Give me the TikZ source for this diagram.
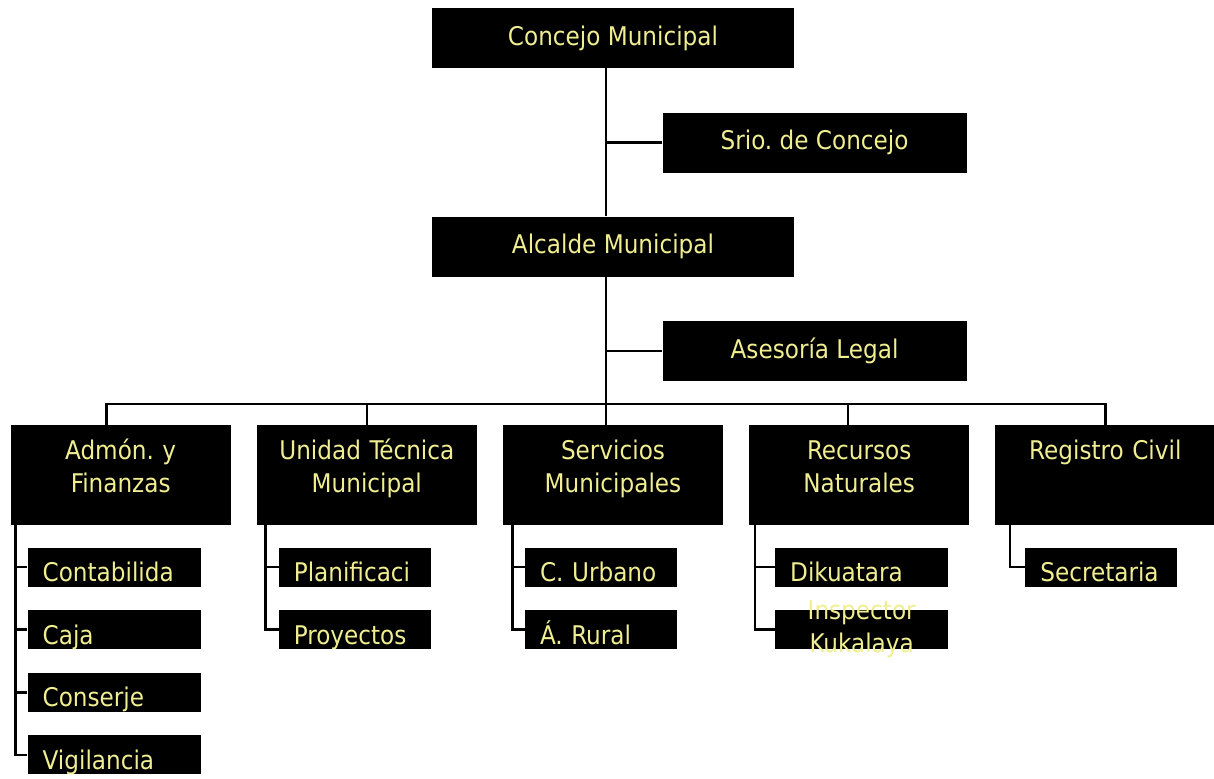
\documentclass[tikz,border=0pt]{standalone}
\usepackage{fontspec}
\setmainfont{DejaVu Sans Condensed}
\usetikzlibrary{positioning}
\definecolor{boxtext}{RGB}{240,238,145}
\newcommand{\orgfont}{\fontsize{18.3pt}{23.5pt}\selectfont}
\tikzstyle{mainbox}=[rectangle, fill=black, text=boxtext, minimum width=9.05cm, minimum height=1.5cm, inner sep=0pt, font=\orgfont]
\tikzstyle{sidebox}=[mainbox, minimum width=7.6cm]
\tikzstyle{dept}=[rectangle, fill=black, text=boxtext, text width=5.3cm, inner xsep=0.1cm, inner ysep=0pt, align=center, text height=0.85cm, text depth=1.65cm, font=\orgfont]
\tikzstyle{subw}=[rectangle, fill=black, text=boxtext, text width=3.575cm, inner xsep=0.375cm, inner ysep=0pt, align=left, minimum height=0.975cm, text height=0.72cm, text depth=0cm, font=\orgfont]
\tikzstyle{subn}=[subw, text width=3.05cm]
\tikzstyle{subtext}=[text=boxtext, font=\orgfont, inner sep=0pt]
\tikzstyle{line}=[draw, line width=1.8pt]

\begin{document}
\frenchspacing
\begin{tikzpicture}
		\useasboundingbox (0,0) rectangle (30.35,-19.45);
		\node (con) [mainbox] at (15.325,-0.95) {Concejo Municipal};
		\node (srio) [sidebox, below right=1.1cm and -3.3cm of con] {Srio. de Concejo};
		\node (alc) [mainbox, below=3.7cm of con] {Alcalde Municipal};
		\node (ase) [sidebox, below right=1.1cm and -3.3cm of alc] {Asesoría Legal};
		
		\node (dep3) [dept, below=3.7cm of alc] {Servicios\\Municipales};
		\node (dep2) [dept, left=0.64cm of dep3] {Unidad Técnica\\Municipal};
		\node (dep1) [dept, left=0.64cm of dep2] {Admón. y\\Finanzas};
		\node (dep4) [dept, right=0.64cm of dep3] {Recursos\\Naturales};
		\node (dep5) [dept, right=0.64cm of dep4] {Registro Civil};
		
		\node (a1) [subw, below=0.55cm of dep1.south west, anchor=north west, xshift=0.425cm] {Contabilida};
		\node (a2) [subw, below=0.575cm of a1.south west, anchor=north west] {Caja};
		\node (a3) [subw, below=0.575cm of a2.south west, anchor=north west] {Conserje};
		\node (a4) [subw, below=0.575cm of a3.south west, anchor=north west] {Vigilancia};
		\node (b1) [subn, below=0.55cm of dep2.south west, anchor=north west, xshift=0.55cm] {Planificaci};
		\node (b2) [subn, below=0.575cm of b1.south west, anchor=north west] {Proyectos};
		\node (c1) [subn, below=0.55cm of dep3.south west, anchor=north west, xshift=0.55cm] {C. Urbano};
		\node (c2) [subn, below=0.575cm of c1.south west, anchor=north west] {Á. Rural};
		\node (d1) [subw, below=0.55cm of dep4.south west, anchor=north west, xshift=0.65cm] {Dikuatara};
		\node (d2) [subw, below=0.575cm of d1.south west, anchor=north west, label={[subtext, align=center]center:Inspector\\Kukalaya}] {};
		\node (e1) [subn, below=0.55cm of dep5.south west, anchor=north west, xshift=0.75cm] {Secretaria};
		
		% trunk sits a little left of the box centres
		\coordinate (top1) at ([xshift=-0.175cm]con.south);
		\coordinate (top2) at ([xshift=-0.175cm]alc.north);
		\coordinate (top3) at ([xshift=-0.175cm]alc.south);
		\coordinate (bus) at ([xshift=-0.175cm, yshift=0.525cm]dep3.north);
		\coordinate (drop1) at ([xshift=-0.35cm]dep1.north);
		\coordinate (drop3) at ([xshift=-0.175cm]dep3.north);
		\coordinate (drop4) at ([xshift=-0.275cm]dep4.north);
		\coordinate (sp1) at ([xshift=0.125cm]dep1.south west);
		\coordinate (sp2) at ([xshift=0.225cm]dep2.south west);
		\coordinate (sp3) at ([xshift=0.25cm]dep3.south west);
		\coordinate (sp4) at ([xshift=0.15cm]dep4.south west);
		\coordinate (sp5) at ([xshift=0.375cm]dep5.south west);
		
		\draw[line] (top1) -- (top2);
		\draw[line] (srio.west) -- (srio.west -| top1);
		\draw[line] (top3) -- (drop3);
		\draw[line] (ase.west) -- (ase.west -| top3);
		\draw[line] (drop1) |- (bus) -| (dep5.north);
		\draw[line] (dep2.north) -- (dep2.north |- bus);
		\draw[line] (drop4) -- (drop4 |- bus);
		
		\draw[line] (sp1) |- (a4.west);
		\draw[line] (sp1 |- a1.west) -- (a1.west);
		\draw[line] (sp1 |- a2.west) -- (a2.west);
		\draw[line] (sp1 |- a3.west) -- (a3.west);
		\draw[line] (sp2) |- (b2.west);
		\draw[line] (sp2 |- b1.west) -- (b1.west);
		\draw[line] (sp3) |- (c2.west);
		\draw[line] (sp3 |- c1.west) -- (c1.west);
		\draw[line] (sp4) |- (d2.west);
		\draw[line] (sp4 |- d1.west) -- (d1.west);
		\draw[line] (sp5) |- (e1.west);
		
		\end{tikzpicture}
\end{document}
